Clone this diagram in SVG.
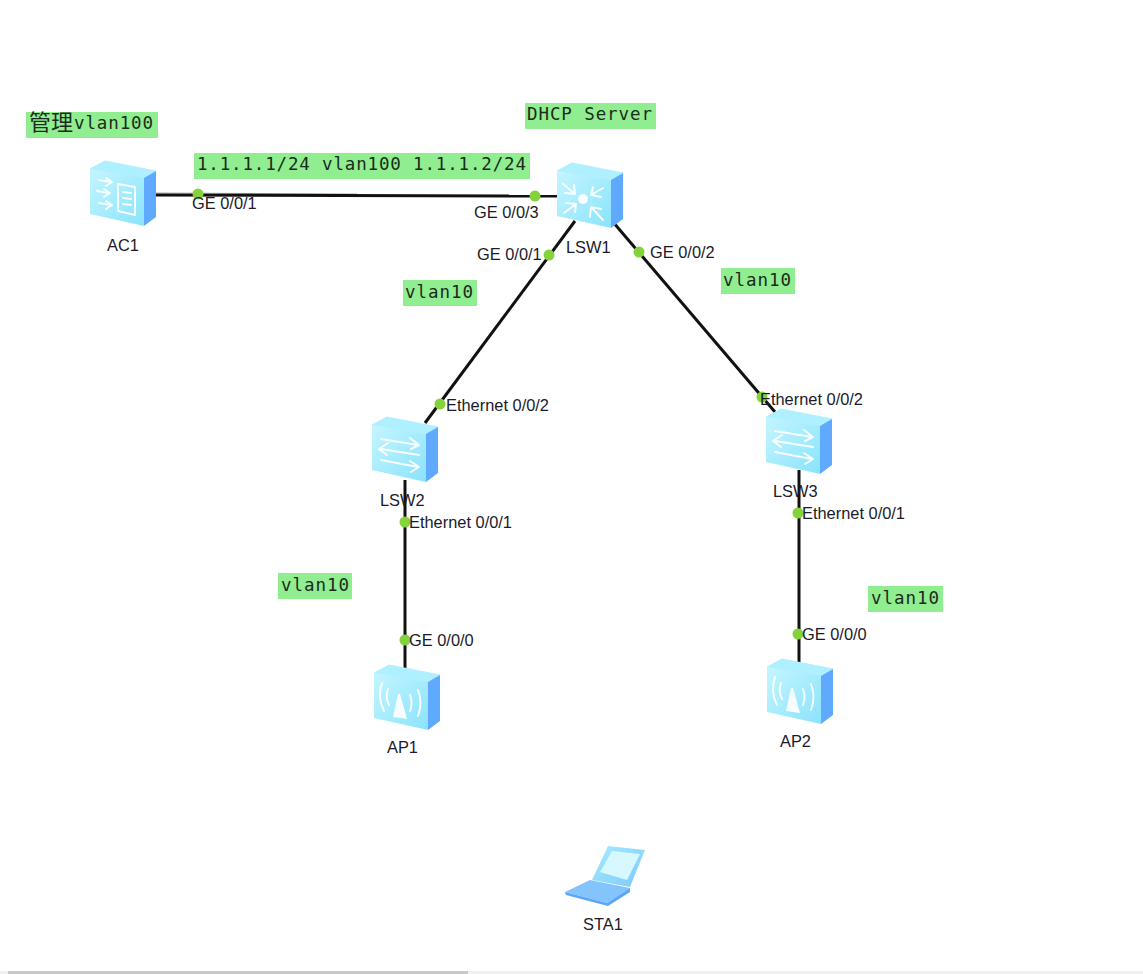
<svg xmlns="http://www.w3.org/2000/svg" width="1143" height="974" viewBox="0 0 1143 974">
  <style>
    .lbl { font-family: "Liberation Sans", Arial, sans-serif; font-size: 16.4px; fill: #1a1a2a; }
    .port { fill: #84d23c; }
    .link { stroke: #111; stroke-width: 3; fill: none; }
    .tag { fill: #90ee90; }
    .tagtext { font-family: "DejaVu Sans Mono", "Noto Sans CJK SC", monospace; font-size: 17.5px; fill: #1c2b1c; }
    .glyph { fill: none; stroke: #fff; stroke-width: 2; stroke-linecap: round; stroke-linejoin: round; opacity: .9; }
    .glyphfill { fill: #fff; opacity: .92; }
  </style>
  <defs>
    <linearGradient id="front" x1="0" y1="0" x2="1" y2="1">
      <stop offset="0" stop-color="#c4f5ff"/>
      <stop offset="1" stop-color="#8ae3fb"/>
    </linearGradient>
    <linearGradient id="lid" x1="0" y1="0" x2="1" y2="1">
      <stop offset="0" stop-color="#a8ecff"/>
      <stop offset="1" stop-color="#7cc8fa"/>
    </linearGradient>
    <g id="box">
      <polygon points="0,8 15,0 66,10 54,17" fill="#aef0ff" stroke="#aef0ff" stroke-linejoin="round"/>
      <polygon points="54,17 66,10 66,56 54,65" fill="#5fa9ff"/>
      <polygon points="0,8 54,17 54,65 0,53" fill="url(#front)"/>
    </g>
    <g id="l2switch">
      <use href="#box"/>
      <path class="glyph" d="M9,22 L46,28 M38,21 L47,28 L39,32"/>
      <path class="glyph" d="M47,38 L9,32 M16,26 L7,32 L15,38"/>
      <path class="glyph" d="M9,43 L46,50 M38,44 L47,50 L39,55"/>
    </g>
    <g id="l3switch">
      <use href="#box"/>
      <circle class="glyphfill" cx="26" cy="36" r="5"/>
      <path class="glyph" d="M6,21 L18,31 M8,30 L18,31 L17,22"/>
      <path class="glyph" d="M46,25 L34,32 M36,24 L34,32 L44,34"/>
      <path class="glyph" d="M7,50 L19,41 M9,40 L19,41 L18,49"/>
      <path class="glyph" d="M46,57 L34,44 M33,54 L34,44 L44,46"/>
    </g>
    <g id="controller">
      <use href="#box"/>
      <path class="glyph" d="M9,19 L21,21 M16,17 L22,21 L16,25"/>
      <path class="glyph" d="M7,30 L19,32 M14,28 L20,32 L14,36"/>
      <path class="glyph" d="M9,42 L21,44 M16,40 L22,44 L16,48"/>
      <path class="glyph" d="M28,23 L45,26 L45,54 L28,50 Z M33,31 L41,32 M33,37 L41,38 M33,43 L41,44"/>
    </g>
    <g id="radio">
      <use href="#box"/>
      <polygon class="glyphfill" points="24,29 26,29 33,54 19,52"/>
      <path class="glyph" d="M14,24 Q11,32 15,40 M8,18 Q3,32 10,46 M36,30 Q39,38 36,46 M44,25 Q49,38 44,51"/>
    </g>
  </defs>

  <rect x="0" y="971" width="1143" height="3" fill="#f1f1f1"/>
  <rect x="8" y="971" width="460" height="3" fill="#c9c9c9"/>

  <g id="connectors">
    <path d="M156,193 L357,194" stroke="#aaa" stroke-width="1" fill="none"/>
    <path class="link" d="M156,195 L558,196"/>
    <path class="link" d="M575,221 L425,423"/>
    <path class="link" d="M613,222 L775,412"/>
    <path class="link" d="M405,480 L405,668"/>
    <path class="link" d="M799,470 L799,662"/>
    <circle class="port" cx="198" cy="194" r="5.5"/>
    <circle class="port" cx="535" cy="196" r="5.5"/>
    <circle class="port" cx="549" cy="255" r="5.5"/>
    <circle class="port" cx="639" cy="252" r="5.5"/>
    <circle class="port" cx="440" cy="404" r="5.5"/>
    <circle class="port" cx="762" cy="397" r="5.5"/>
    <circle class="port" cx="405" cy="522" r="5.5"/>
    <circle class="port" cx="405" cy="640" r="5.5"/>
    <circle class="port" cx="798" cy="513" r="5.5"/>
    <circle class="port" cx="798" cy="634" r="5.5"/>
    <text class="lbl" x="192" y="209">GE 0/0/1</text>
    <text class="lbl" x="474" y="218">GE 0/0/3</text>
    <text class="lbl" x="477" y="260">GE 0/0/1</text>
    <text class="lbl" x="650" y="258">GE 0/0/2</text>
    <text class="lbl" x="446" y="411">Ethernet 0/0/2</text>
    <text class="lbl" x="760" y="405">Ethernet 0/0/2</text>
    <text class="lbl" x="409" y="528">Ethernet 0/0/1</text>
    <text class="lbl" x="802" y="519">Ethernet 0/0/1</text>
    <text class="lbl" x="409" y="646">GE 0/0/0</text>
    <text class="lbl" x="802" y="640">GE 0/0/0</text>
  </g>

  <g id="AC1">
    <use href="#controller" x="90" y="161"/>
    <text class="lbl" x="107" y="251">AC1</text>
  </g>
  <g id="LSW1">
    <use href="#l3switch" x="557" y="163"/>
    <text class="lbl" x="566" y="253">LSW1</text>
  </g>
  <g id="LSW2">
    <use href="#l2switch" x="372" y="417"/>
    <text class="lbl" x="380" y="506">LSW2</text>
  </g>
  <g id="LSW3">
    <use href="#l2switch" x="766" y="409"/>
    <text class="lbl" x="773" y="497">LSW3</text>
  </g>
  <g id="AP1">
    <use href="#radio" x="374" y="665"/>
    <text class="lbl" x="387" y="753">AP1</text>
  </g>
  <g id="AP2">
    <use href="#radio" x="767" y="659"/>
    <text class="lbl" x="780" y="747">AP2</text>
  </g>
  <g id="STA1">
    <polygon points="608,846 645,850 630,887 592,880" fill="url(#lid)"/>
    <polygon points="612,851 640,854 627,880 600,872" fill="#d8f8ff"/>
    <polygon points="565,892 590,880 630,888 607,903" fill="#84c4fc"/>
    <polygon points="607,903 630,888 630,892 608,906 566,895 565,892" fill="#5aa6f8"/>
    <text class="lbl" x="583" y="930">STA1</text>
  </g>

  <g id="tag-management">
    <rect class="tag" x="26" y="112" width="132" height="26"/>
    <text class="tagtext" x="29" y="130"><tspan font-size="22" font-family="Noto Sans CJK SC, sans-serif">管理</tspan></text>
    <text class="tagtext" x="74" y="129" textLength="79" lengthAdjust="spacing">vlan100</text>
  </g>
  <g id="tag-addresses">
    <rect class="tag" x="194" y="153" width="336" height="26"/>
    <text class="tagtext" x="197" y="170" textLength="329" lengthAdjust="spacing">1.1.1.1/24 vlan100 1.1.1.2/24</text>
  </g>
  <g id="tag-dhcp">
    <rect class="tag" x="525" y="103" width="131" height="26"/>
    <text class="tagtext" x="527" y="120" textLength="125" lengthAdjust="spacing">DHCP Server</text>
  </g>
  <g id="tag-vlan-lsw2">
    <rect class="tag" x="403" y="280" width="74" height="26"/>
    <text class="tagtext" x="405" y="298" textLength="68" lengthAdjust="spacing">vlan10</text>
  </g>
  <g id="tag-vlan-lsw3">
    <rect class="tag" x="721" y="268" width="74" height="26"/>
    <text class="tagtext" x="723" y="286" textLength="68" lengthAdjust="spacing">vlan10</text>
  </g>
  <g id="tag-vlan-ap1">
    <rect class="tag" x="278" y="573" width="74" height="26"/>
    <text class="tagtext" x="281" y="591" textLength="68" lengthAdjust="spacing">vlan10</text>
  </g>
  <g id="tag-vlan-ap2">
    <rect class="tag" x="868" y="586" width="75" height="26"/>
    <text class="tagtext" x="871" y="604" textLength="68" lengthAdjust="spacing">vlan10</text>
  </g>
</svg>
